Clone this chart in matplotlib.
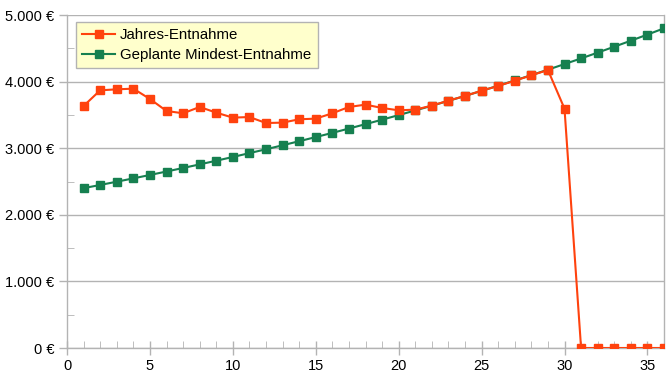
import matplotlib.pyplot as plt
from matplotlib.ticker import FuncFormatter, MultipleLocator

plt.rcParams['font.family'] = ['Liberation Sans', 'DejaVu Sans']

jahre = list(range(1, 37))
jahres_entnahme = [3634, 3869, 3884, 3894, 3739, 3559, 3524, 3619, 3534, 3459,
                   3468, 3378, 3384, 3434, 3444, 3524, 3619, 3654, 3604, 3569,
                   3579, 3639, 3714, 3784, 3864, 3934, 4014, 4094, 4174, 3594,
                   0, 0, 0, 0, 0, 0]
mindest_entnahme = [2400, 2448, 2497, 2547, 2598, 2650, 2703, 2757, 2812, 2868,
                    2926, 2984, 3044, 3105, 3167, 3230, 3295, 3361, 3428, 3497,
                    3567, 3638, 3711, 3785, 3861, 3938, 4017, 4097, 4179, 4263,
                    4348, 4435, 4524, 4614, 4706, 4800]

orange = '#ff420e'
gruen = '#168050'
grau = '#b3b3b3'

fig = plt.figure(figsize=(6.71, 3.78), dpi=100)
ax = fig.add_axes([67/671, 30/378, 597/671, 333/378])

ax.plot(jahre, jahres_entnahme, color=orange, lw=1.5, marker='s', ms=5.3,
        label='Jahres-Entnahme', zorder=4)
ax.plot(jahre, mindest_entnahme, color=gruen, lw=1.5, marker='s', ms=5.3,
        label='Geplante Mindest-Entnahme', zorder=3)

ax.set_xlim(0, 36)
ax.set_ylim(0, 5000)
ax.xaxis.set_major_locator(MultipleLocator(5))
ax.xaxis.set_minor_locator(MultipleLocator(1))
ax.yaxis.set_major_locator(MultipleLocator(1000))
ax.yaxis.set_minor_locator(MultipleLocator(500))
ax.yaxis.set_major_formatter(FuncFormatter(lambda v, p: f"{int(v):,} €".replace(',', '.')))

ax.grid(axis='y', which='major', color=grau, lw=1)
ax.set_axisbelow(True)
for side in ['left', 'bottom', 'right']:
    ax.spines[side].set_color(grau)
    ax.spines[side].set_linewidth(1)
ax.spines['top'].set_visible(False)

ax.tick_params(axis='both', which='major', color=grau, labelsize=10.5, width=1)
ax.tick_params(axis='x', which='major', direction='inout', length=10, pad=3)
ax.tick_params(axis='x', which='minor', direction='in', length=5, color=grau)
ax.tick_params(axis='y', which='major', direction='out', length=6, pad=3)
ax.tick_params(axis='y', which='minor', direction='in', length=5, color=grau)

leg = ax.legend(loc='upper left', bbox_to_anchor=(9/597, 1 - 7/333),
                fontsize=10.8, frameon=True, fancybox=False, borderpad=0.4,
                handlelength=2.2, handletextpad=0.35, labelspacing=0.4,
                borderaxespad=0)
leg.get_frame().set_facecolor('#ffffcc')
leg.get_frame().set_edgecolor(grau)
leg.get_frame().set_alpha(1)

fig.savefig('out.png', dpi=100)
